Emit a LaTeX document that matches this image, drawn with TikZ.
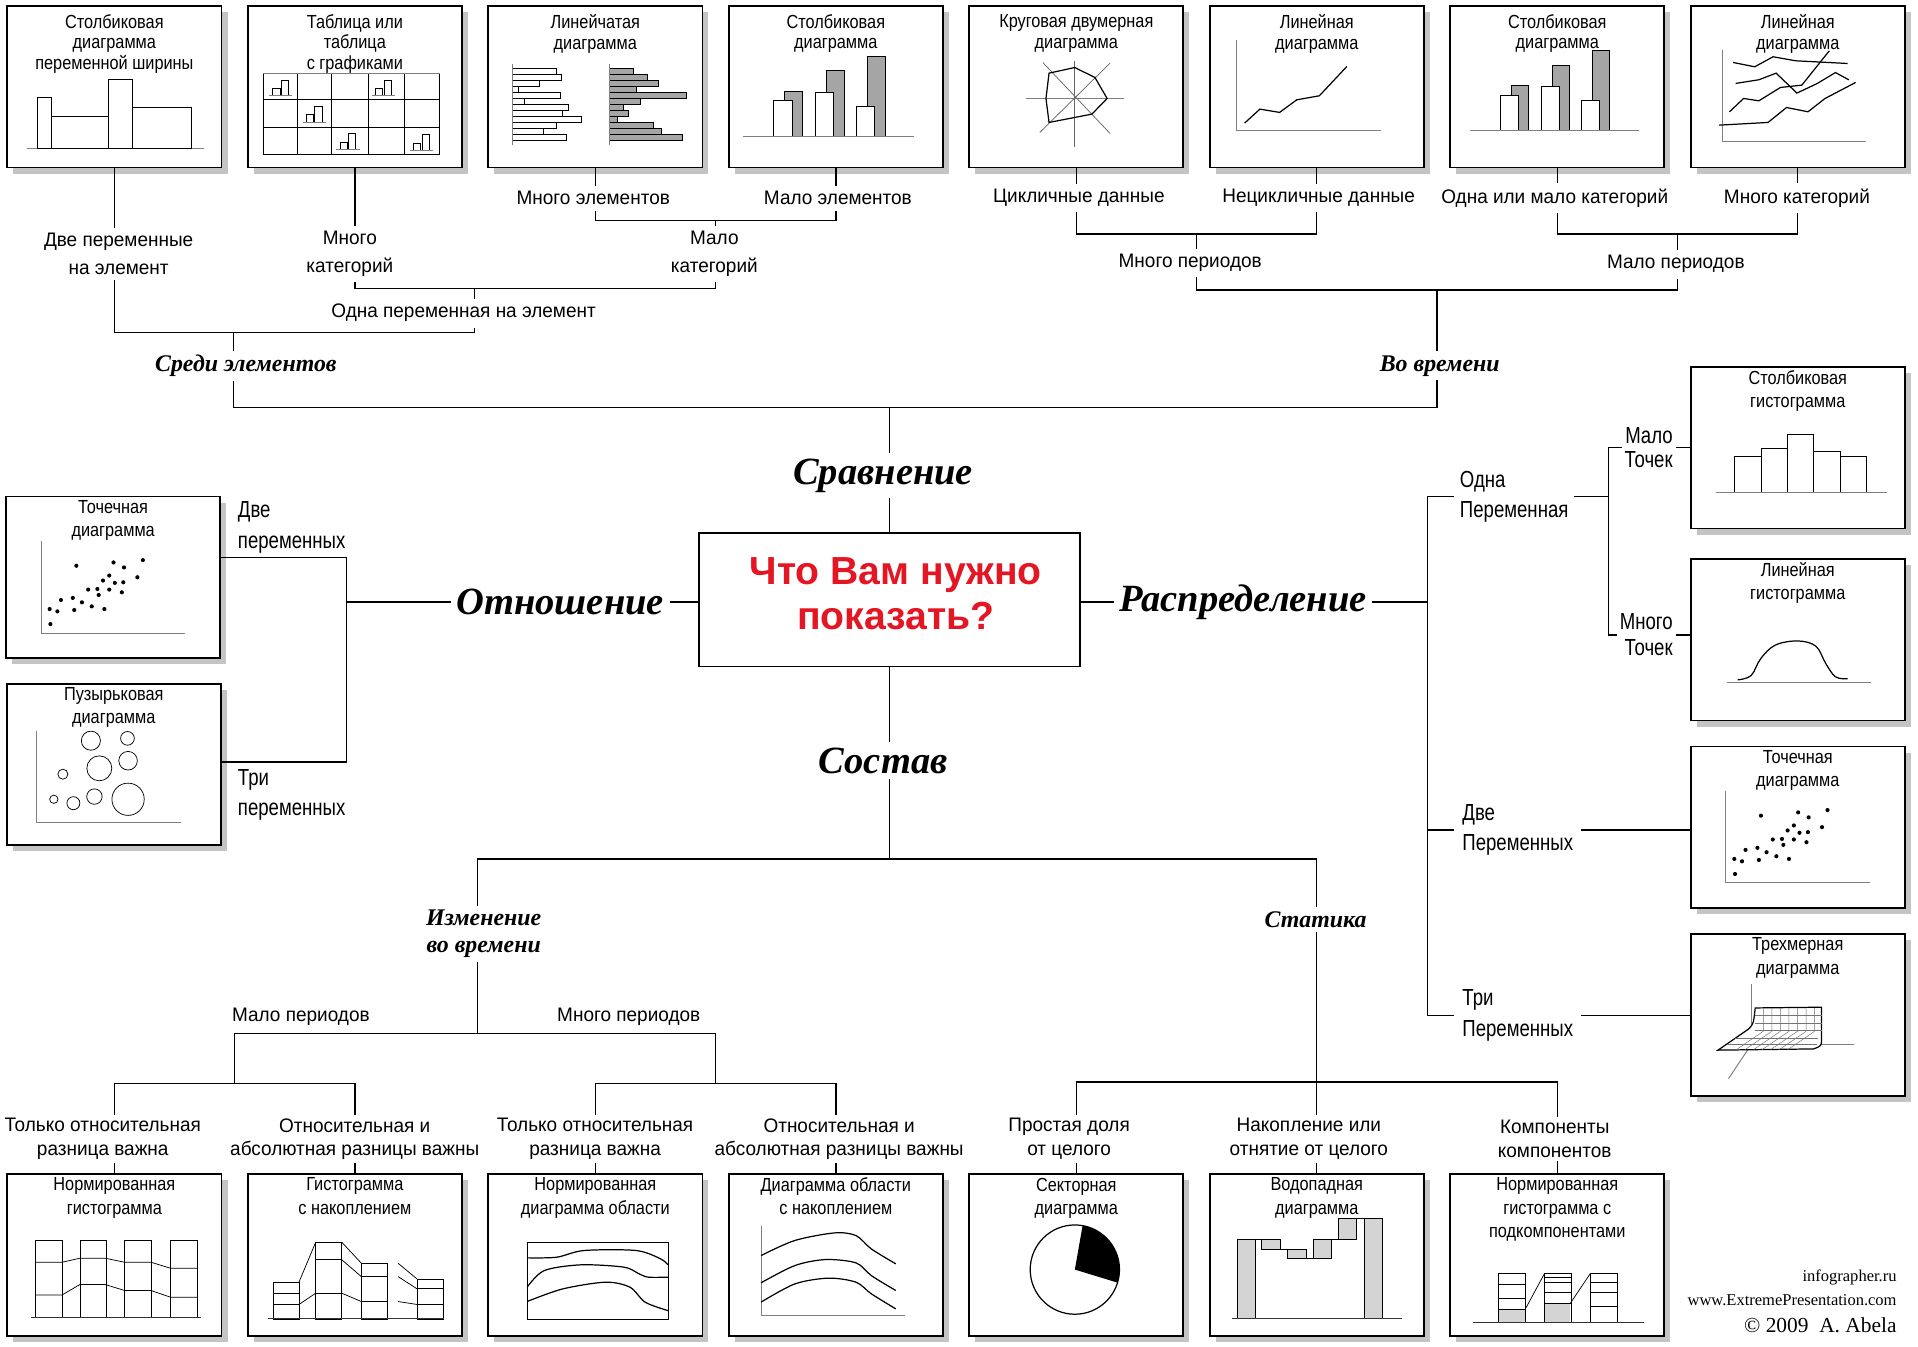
\documentclass[tikz,border=0pt]{standalone}
\usepackage{fontspec}
\setmainfont{Liberation Sans}
\newfontfamily\lblfont{Liberation Sans}[FakeStretch=0.97]
\newfontfamily\boxfont{Liberation Sans}[FakeStretch=0.86]
\newfontfamily\tallfont{Liberation Sans}[FakeStretch=0.8]
\newfontfamily\catfont{Liberation Serif}
\usetikzlibrary{shadows,positioning}

\definecolor{shadowgray}{RGB}{196,196,196}
\definecolor{bargray}{RGB}{165,165,165}
\definecolor{fillgray}{RGB}{212,212,212}
\definecolor{askred}{RGB}{228,22,36}

% scatter chart, used in two boxes
\newcommand{\dotcloud}{%
  \draw[axisline] (29.4,37) -- (29.4,112.2) -- (147,112.2);
  \foreach \px/\py in {58.1/57.2,88.5/54.5,97.1/58.6,112.5/52.6,85/65.2,108/66.6,79.9/69.3,89.6/71.2,96.5/70.7,67.8/76.7,75.3/76.2,85/76.7,76.4/81.1,95.3/78.9,45.5/85.2,55.2/83.5,62.7/87.1,70.7/90.4,81/92.6,36.3/92.6,42.6/94.5,56.4/93.4,36.9/104.9}
    \fill (\px,\py) circle[radius=1.7pt];
}

\begin{document}
\begin{tikzpicture}[x=1pt,y=-1pt,line width=1.1pt,
chartbox/.style={draw,line width=1.4pt,fill=white,minimum width=175pt,minimum height=132pt,inner sep=0pt,
  drop shadow={shadow xshift=5pt,shadow yshift=-5pt,fill=shadowgray,opacity=1}},
ttl/.style={anchor=north,align=center,inner sep=3pt,font=\boxfont\fontsize{15.5}{19}\selectfont},
topttl/.style={ttl,yshift=-4pt,font=\boxfont\fontsize{15.5}{16.8}\selectfont},
lbl/.style={align=center,inner sep=4pt,font=\lblfont\fontsize{16}{22.5}\selectfont},
lowlbl/.style={align=center,inner sep=2.5pt,font=\lblfont\fontsize{16}{19}\selectfont},
biglbl/.style={align=left,inner sep=4pt,font=\tallfont\fontsize{19}{25}\selectfont},
maincat/.style={inner sep=4pt,font=\catfont\bfseries\itshape\fontsize{31.5}{34}\selectfont},
subcat/.style={align=center,inner sep=3pt,font=\catfont\bfseries\itshape\fontsize{19.5}{22}\selectfont},
axisline/.style={line width=0.8pt,draw=black!50},
thinline/.style={line width=0.6pt},
chartline/.style={line width=1pt},
credit/.style={anchor=east,inner sep=0pt,font=\catfont\fontsize{13.5}{15}\selectfont}]

\fill[white,use as bounding box] (0,0) rectangle (1568,1101);

%%% comparison charts (top row)
\node[chartbox] (cmp1) at (93.5,71) {};
\node[topttl] (cmp1t) at (cmp1.north) {Столбиковая\\диаграмма\\переменной ширины};
\node[chartbox] (cmp2) at (290.1,71) {};
\node[topttl] (cmp2t) at (cmp2.north) {Таблица или\\таблица\\с графиками};
\node[chartbox] (cmp3) at (486.7,71) {};
\node[topttl] (cmp3t) at (cmp3.north) {Линейчатая\\диаграмма};
\node[chartbox] (cmp4) at (683.3,71) {};
\node[topttl] (cmp4t) at (cmp4.north) {Столбиковая\\диаграмма};
\node[chartbox] (cmp5) at (879.9,71) {};
\node[topttl] (cmp5t) at (cmp5.north) {Круговая двумерная\\диаграмма};
\node[chartbox] (cmp6) at (1076.5,71) {};
\node[topttl] (cmp6t) at (cmp6.north) {Линейная\\диаграмма};
\node[chartbox] (cmp7) at (1273.1,71) {};
\node[topttl] (cmp7t) at (cmp7.north) {Столбиковая\\диаграмма};
\node[chartbox] (cmp8) at (1469.7,71) {};
\node[topttl] (cmp8t) at (cmp8.north) {Линейная\\диаграмма};

\begin{scope}[shift={(cmp1.north west)}]
\draw[axisline] (16.5,117) -- (161.7,117);
\foreach \a/\b/\h in {25/37/75.4,37/83/90.9,83/103/60.4,103/151.5/83.6}
  \draw[thinline] (\a,117) rectangle (\b,\h);
\end{scope}
\begin{scope}[shift={(cmp2.north west)}]
\foreach \x in {13.4,40.9,68.9,98.9,128.9,157.4} \draw[thinline] (\x,55.5) -- (\x,122.2);
\foreach \y in {77.3,99.9,122.2} \draw[thinline] (13.4,\y) -- (157.4,\y);
\draw[axisline] (13.4,55.5) -- (157.4,55.5);
\foreach \x/\y in {20/74,104/74,47.5/95.5,75/118,135/118.5} {
  \draw[thinline] (\x+1,\y) rectangle (\x+7,\y-6);
  \draw[thinline] (\x+8,\y) rectangle (\x+14,\y-13);
  \draw[axisline] (\x-2,\y) -- (\x+17,\y);
}
\end{scope}
\begin{scope}[shift={(cmp3.north west)}]
\foreach \w [count=\i from 0] in {36,40,22,5,39,10,46,41,56,36,25,44}
  \draw[thinline,fill=white] (20.4,51.7+4.9*\i) rectangle ++(\w,4.9);
\foreach \w [count=\i from 0] in {19,30.5,39.5,21.5,63,25,11.5,15.5,6.5,35.5,42.5,59}
  \draw[thinline,fill=bargray] (100,51.7+4.9*\i) rectangle ++(\w,4.9);
\draw[axisline] (20.4,48) -- (20.4,114.3);
\draw[axisline] (100,48) -- (100,114.3);
\end{scope}
\begin{scope}[shift={(cmp4.north west)}]
\foreach \a/\h/\g in {37.4/78.1/70.5,71.4/71.3/53.6,105.1/82.7/41.9} {
  \draw[thinline,fill=bargray] (\a+9,107.2) rectangle (\a+23.5,\g);
  \draw[thinline,fill=white] (\a,107.2) rectangle (\a+15,\h);
}
\draw[axisline] (12.4,107.2) -- (152.4,107.2);
\end{scope}
\begin{scope}[shift={(cmp5.north west)}]
\draw[axisline,line width=1.4pt] (47.4,76.2) -- (127.4,76.2);
\draw[thinline,draw=black!60] (86.8,45.4) -- (86.8,116.2);
\draw[thinline,draw=black!60] (60.8,46.8) -- (115.8,104.8);
\draw[thinline,draw=black!60] (115.8,47.3) -- (58.3,104);
\draw[chartline] (86.9,50.9) -- (103.4,59) -- (113.4,76.2) -- (100.9,89) -- (65.9,95.8) -- (63.4,76.2) -- (65.9,55.5) -- cycle;
\end{scope}
\begin{scope}[shift={(cmp6.north west)}]
\draw[axisline] (22.7,28.2) -- (22.7,102.6) -- (140.3,102.6);
\draw[chartline] (29.2,96.3) -- (41.7,84.9) -- (57.8,87.6) -- (71.8,77.3) -- (90.3,74) -- (112.8,50);
\end{scope}
\begin{scope}[shift={(cmp7.north west)}]
\foreach \a/\h/\g in {41.8/74/65.8,75.4/66.4/49.5,107.9/78/37.2} {
  \draw[thinline,fill=bargray] (\a+8.6,102.6) rectangle (\a+22.6,\g);
  \draw[thinline,fill=white] (\a,102.6) rectangle (\a+14.6,\h);
}
\draw[axisline] (16.8,102.6) -- (155.4,102.6);
\end{scope}
\begin{scope}[shift={(cmp8.north west)}]
\draw[axisline] (26.4,36.4) -- (26.4,111.6) -- (144,111.6);
\draw[chartline] (35.4,46.8) -- (53,50.3) -- (68,42.1) -- (86.5,45.4) -- (129,47.6);
\draw[chartline] (37.4,63.9) -- (56.4,60.9) -- (70.5,55.5) -- (87.5,71.8) -- (104,64) -- (119,55) -- (130,61);
\draw[chartline] (32.4,87.1) -- (43.9,76.2) -- (56.4,78.1) -- (74,67.2) -- (91.5,65.3) -- (114,37.2);
\draw[chartline] (23.9,98) -- (63.9,95.8) -- (79,83.6) -- (96.5,87.1) -- (110.5,76.2) -- (135.5,63.1);
\end{scope}

%%% comparison tree
\node[lbl] (l1) at (97,207.4) {Две переменные\\на элемент};
\node[lbl] (l2) at (286,207.4) {Много\\категорий};
\node[lbl] (l3) at (584,207.4) {Мало\\категорий};
\node[lbl] (l4) at (379,256) {Одна переменная на элемент};
\node[lbl] (l5) at (485,162) {Много элементов};
\node[lbl] (l6) at (685,162) {Мало элементов};
\node[subcat] (l7) at (201,299) {Среди элементов};
\node[lbl] (l8) at (882,162) {Цикличные данные};
\node[lbl] (l9) at (1078,162) {Нецикличные данные};
\node[lbl] (l10) at (1271,162) {Одна или мало категорий};
\node[lbl] (l11) at (1469,162) {Много категорий};
\node[lbl] (l12) at (973,215) {Много периодов};
\node[lbl] (l13) at (1370,216) {Мало периодов};
\node[subcat] (l14) at (1177,299) {Во времени};

\coordinate (jA) at (585,180.4);
\coordinate (jB) at (388,235.7);
\coordinate (jC) at (191,272);
\coordinate (jD) at (727.3,333);
\coordinate (jE) at (978.2,191.3);
\coordinate (jF) at (1371.4,191.3);
\coordinate (jG) at (1174.8,237);

\draw (cmp1.south) -- (cmp1.south |- l1.north);
\draw (cmp2.south) -- (cmp2.south |- l2.north);
\draw (cmp3.south) -- (cmp3.south |- l5.north);
\draw (cmp4.south) -- (cmp4.south |- l6.north);
\draw (l5.south -| cmp3.south) |- (jA) -| (l6.south -| cmp4.south);
\draw (jA) -- (jA |- l3.north);
\draw (l2.south -| cmp2.south) |- (jB) -| (l3.south -| jA);
\draw (jB) -- (jB |- l4.north);
\draw (l1.south -| cmp1.south) |- (jC) -| (l4.south -| jB);
\draw (jC) -- (jC |- l7.north);
\draw (cmp5.south) -- (cmp5.south |- l8.north);
\draw (cmp6.south) -- (cmp6.south |- l9.north);
\draw (cmp7.south) -- (cmp7.south |- l10.north);
\draw (cmp8.south) -- (cmp8.south |- l11.north);
\draw (l8.south -| cmp5.south) |- (jE) -| (l9.south -| cmp6.south);
\draw (jE) -- (jE |- l12.north);
\draw (l10.south -| cmp7.south) |- (jF) -| (l11.south -| cmp8.south);
\draw (jF) -- (jF |- l13.north);
\draw (l12.south -| jE) |- (jG) -| (l13.south -| jF);
\draw (jG) -- (jG |- l14.north);
\draw (l7.south -| jC) |- (jD) -| (l14.south -| jG);

%%% centre
\node[draw,line width=1.3pt,minimum width=311.4pt,minimum height=109.3pt,align=center,text depth=10pt,
  text=askred,font=\bfseries\fontsize{32}{36.5}\selectfont] (q) at (727.3,490.3) {\hspace*{10pt}Что Вам нужно\\\hspace*{10pt}показать?};
\node[maincat] (c1) at (722,388.7) {Сравнение};
\node[maincat] (c2) at (458,492) {Отношение};
\node[maincat] (c3) at (1016.3,492) {Распределение};
\node[maincat] (c4) at (722,622) {Состав};
\draw (jD) -- (jD |- c1.north);
\draw (c1.south -| q.north) -- (q.north);

%%% relationship
\node[chartbox] (rel1) at (92.5,472) {};
\node[ttl] (rel1t) at (rel1.north) {Точечная\\диаграмма};
\node[chartbox] (rel2) at (93,625) {};
\node[ttl] (rel2t) at (rel2.north) {Пузырьковая\\диаграмма};
\begin{scope}[shift={(rel1.north west)}]
\dotcloud
\end{scope}
\begin{scope}[shift={(rel2.north west)}]
\draw[axisline] (25.4,39) -- (25.4,113.8) -- (143,113.8);
\foreach \x/\y/\r in {69.5/47.2/7.8,99.4/45.3/5.6,76.4/69.8/10.2,99.9/63.6/7.6,46.6/74.6/4.1,72.4/92.9/6.3,55.2/98.3/5.3,39.2/95.1/3.4,99.9/95.1/13.2}
  \draw[thinline] (\x,\y) circle[radius=\r pt];
\end{scope}
\node[biglbl,anchor=west] (k1) at (190,431) {Две\\переменных};
\node[biglbl,anchor=west] (k2) at (190,650) {Три\\переменных};
\coordinate (jH) at (283.2,455.8);
\coordinate (jI) at (283.2,622.8);
\draw (rel1.east |- jH) -- (jH) -- (jI) -- (rel2.east |- jI);
\draw (jH |- c2.west) -- (c2.west);
\draw (c2.east) -- (c2.east -| q.west);

%%% distribution
\node[chartbox] (dis1) at (1469.7,366) {};
\node[ttl] (dis1t) at (dis1.north) {Столбиковая\\гистограмма};
\node[chartbox] (dis2) at (1469.7,523) {};
\node[ttl] (dis2t) at (dis2.north) {Линейная\\гистограмма};
\node[chartbox] (dis3) at (1469.7,676.3) {};
\node[ttl] (dis3t) at (dis3.north) {Точечная\\диаграмма};
\node[chartbox] (dis4) at (1469.7,829.8) {};
\node[ttl] (dis4t) at (dis4.north) {Трехмерная\\диаграмма};
\begin{scope}[shift={(dis1.north west)}]
\foreach \a/\b/\h in {36.4/58.6/74,58.6/79.9/67.5,79.9/101.2/56,101.2/123.4/69.4,123.4/144.6/74}
  \draw[thinline] (\a,103) rectangle (\b,\h);
\draw[axisline] (21.3,103) -- (160.9,103);
\end{scope}
\begin{scope}[shift={(dis2.north west)}]
\draw[axisline] (30.6,102) -- (147.8,102);
\draw[chartline] plot[smooth,tension=0.6] coordinates {(39.1,99.5) (50,96) (58,82) (70,71) (88.4,67.7) (103,72) (111,86) (119,97) (128.9,98.6)};
\end{scope}
\begin{scope}[shift={(dis3.north west)}]
\dotcloud
\end{scope}
\begin{scope}[shift={(dis4.north west)}]
\draw[axisline] (50,41.5) -- (50,91) -- (134,91);
\draw[axisline] (50,91) -- (31.6,118.7);
\filldraw[chartline,fill=white] (53.4,60.9) -- (107.6,60.3) -- (107.6,86) .. controls (107.6,92) .. (101,94.4) -- (23,95.4) -- (47.9,78.2) .. controls (52,74) .. (53.4,60.9) -- cycle;
\foreach \x in {60,67,74,81,88,95,102}
  \draw[line width=0.4pt,draw=black!55] (\x,61) -- (\x,80) -- (\x-22,95);
\foreach \y in {67,73,79}
  \draw[line width=0.4pt,draw=black!55] (53,\y) -- (107.6,\y);
\draw[line width=0.4pt,draw=black!55] (37,86) -- (105,86) (30,90.6) -- (104,90.6);
\end{scope}

\node[biglbl,anchor=west] (r1) at (1189,406) {Одна\\Переменная};
\node[biglbl,anchor=east,align=right,inner sep=2pt,font=\tallfont\fontsize{19}{19}\selectfont] (r2) at (1370,366) {Мало\\Точек};
\node[biglbl,anchor=east,align=right,inner sep=2pt,font=\tallfont\fontsize{19}{21}\selectfont] (r3) at (1370,519) {Много\\Точек};
\node[biglbl,anchor=west,inner xsep=6pt] (r4) at (1189,678.6) {Две\\Переменных};
\node[biglbl,anchor=west,inner xsep=6pt] (r5) at (1189,830) {Три\\Переменных};
\coordinate (jJ) at (1166.8,406);
\coordinate (jK) at (1314.8,406);
\draw (q.east |- c3.west) -- (c3.west);
\draw (c3.east) -- (c3.east -| jJ);
\draw (r1.west) -- (jJ) |- (r5.west);
\draw (jJ |- r4.west) -- (r4.west);
\draw (r1.east) -- (jK);
\draw (r2.west) -| (jK) |- (r3.west);
\draw (r2.east) -- (r2.east -| dis1.west);
\draw (r3.east) -- (r3.east -| dis2.west);
\draw (r4.east) -- (r4.east -| dis3.west);
\draw (r5.east) -- (r5.east -| dis4.west);

%%% composition
\node[chartbox] (com1) at (93.5,1026) {};
\node[ttl] (com1t) at (com1.north) {Нормированная\\гистограмма};
\node[chartbox] (com2) at (290.1,1026) {};
\node[ttl] (com2t) at (com2.north) {Гистограмма\\с накоплением};
\node[chartbox] (com3) at (486.7,1026) {};
\node[ttl] (com3t) at (com3.north) {Нормированная\\диаграмма области};
\node[chartbox] (com4) at (683.3,1026) {};
\node[ttl] (com4t) at (com4.north) {Диаграмма области\\с накоплением};
\node[chartbox] (com5) at (879.9,1026) {};
\node[ttl] (com5t) at (com5.north) {Секторная\\диаграмма};
\node[chartbox] (com6) at (1076.5,1026) {};
\node[ttl] (com6t) at (com6.north) {Водопадная\\диаграмма};
\node[chartbox] (com7) at (1273.1,1026) {};
\node[ttl] (com7t) at (com7.north) {Нормированная\\гистограмма с\\подкомпонентами};

\begin{scope}[shift={(com1.north west)}]
\foreach \a in {24,60,96.6,134.2} \draw[thinline] (\a,54.9) rectangle (\a+21.5,117.5);
\draw[thinline] (24,72.6) -- (45.5,72.6) -- (60,69.3) -- (80.7,69.3) -- (96.6,72.6) -- (118.1,72.6) -- (134.2,77.5) -- (155.7,77.5);
\draw[thinline] (24,99.3) -- (45.5,99.3) -- (60,90.8) -- (80.7,90.8) -- (96.6,95.7) -- (118.1,95.7) -- (134.2,101.2) -- (155.7,101.2);
\draw[axisline,draw=black!80] (20,117.5) -- (159,117.5);
\end{scope}
\begin{scope}[shift={(com2.north west)}]
\foreach \a/\h in {21.2/88.9,56.2/56.2,93.5/73.4,139/86.2} \draw[thinline] (\a,\h) rectangle (\a+21.3,118.9);
\foreach \a/\y in {21.2/97.9,21.2/107.1,56.2/70.6,56.2/97.9,93.5/84.3,93.5/104.7,139/94.3,139/107.1}
  \draw[thinline] (\a,\y) -- ++(21.3,0);
\draw[thinline] (42.5,88.9) -- (56.2,56.2) (42.5,107.1) -- (56.2,97.9) (77.5,56.2) -- (93.5,73.4) (77.5,70.6) -- (93.5,84.3) (77.5,97.9) -- (93.5,104.7) (123.5,73.4) -- (139,86.2) (123.5,84.3) -- (139,94.3) (123.5,104.7) -- (139,107.1);
\draw[axisline,draw=black!80] (17.2,118.9) -- (161.2,118.9);
\end{scope}
\begin{scope}[shift={(com3.north west)}]
\draw[thinline] (32.4,56.2) rectangle (147.6,118.9);
\draw[chartline] plot[smooth] coordinates {(32.4,69) (56.5,68.5) (79,63) (121.5,63) (141.5,69.8) (147.5,74.7)};
\draw[chartline] plot[smooth] coordinates {(32.4,93) (46.4,79.4) (76.5,74.7) (111.5,76.6) (124,82.1) (131.5,84.8) (147.5,84.8)};
\draw[chartline] plot[smooth] coordinates {(32.4,104.7) (61.5,94.4) (96.5,88.9) (116.5,93) (129,105.3) (147.5,112.1)};
\end{scope}
\begin{scope}[shift={(com4.north west)}]
\draw[axisline] (27.1,42.6) -- (27.1,116.1) -- (144.7,116.1);
\draw[chartline] plot[smooth] coordinates {(27.1,67.1) (54.7,54.8) (87.2,48.6) (104.7,50.8) (117.2,61.7) (137.2,73.9)};
\draw[chartline] plot[smooth] coordinates {(27.1,89.4) (54.7,75.3) (79.7,70.4) (104.7,73.1) (117.2,83.5) (137.2,95.7)};
\draw[chartline] plot[smooth] coordinates {(27.1,105.2) (54.7,90.3) (82.2,85.6) (104.7,88.9) (117.2,98.4) (137.2,110.7)};
\end{scope}
\begin{scope}[shift={(com5.north west)}]
\draw[chartline] (87,78.6) circle[radius=36.5pt];
\fill (87,78.6) -- ++(80:36.5pt) arc[start angle=80,end angle=-17,radius=36.5pt] -- cycle;
\end{scope}
\begin{scope}[shift={(com6.north west)}]
\foreach \a/\t/\b in {23.2/54/118.3,43.2/54/61.7,64.3/61.7/69.3,85.3/54/69.3,105.8/36.6/54,126.8/36.6/118.3}
  \draw[thinline,fill=fillgray] (\a,\t) rectangle (\a+15,\b);
\draw[thinline] (38.2,54) -- (43.2,54) (58.2,61.7) -- (64.3,61.7) (79.3,69.3) -- (85.3,69.3) (100.3,54) -- (105.8,54) (120.8,36.6) -- (126.8,36.6);
\draw[axisline,draw=black!80] (19.2,118.3) -- (157.9,118.3);
\end{scope}
\begin{scope}[shift={(com7.north west)}]
\fill[fillgray] (40.3,111.2) rectangle (61.9,122.1);
\fill[fillgray] (77.9,106.1) rectangle (98.9,122.1);
\foreach \a in {40.3,77.9,115.4} \draw[thinline] (\a,81.5) rectangle (\a+21.5,122.1);
\foreach \a/\y in {40.3/90.3,40.3/101.9,40.3/111.2,77.9/84.8,77.9/88.9,77.9/97.1,77.9/106.1,115.4/88.9,115.4/97.1,115.4/108.8}
  \draw[thinline] (\a,\y) -- ++(21.5,0);
\draw[thinline] (61.9,111.2) -- (77.9,81.5) (98.9,106.1) -- (115.4,81.5);
\draw[axisline,draw=black!80] (19.3,122.1) -- (159,122.1);
\end{scope}

\node[subcat] (c5) at (395.4,763.5) {Изменение\\во времени};
\node[subcat] (c8) at (1075.5,752) {Статика};
\node[lowlbl] (c6) at (246,831) {Мало периодов};
\node[lowlbl] (c7) at (514,831) {Много периодов};
\node[lowlbl] (t1) at (84,931) {Только относительная\\разница важна};
\node[lowlbl] (t2) at (290,931) {Относительная и\\абсолютная разницы важны};
\node[lowlbl] (t3) at (486.5,931) {Только относительная\\разница важна};
\node[lowlbl] (t4) at (686,931) {Относительная и\\абсолютная разницы важны};
\node[lowlbl] (t5) at (874,931) {Простая доля\\от целого};
\node[lowlbl] (t6) at (1070,931) {Накопление или\\отнятие от целого};
\node[lowlbl] (t7) at (1271,931) {Компоненты\\компонентов};

\coordinate (jL) at (390.4,702.3);
\coordinate (jM) at (1076.3,702.3);
\coordinate (jN) at (390.4,845);
\coordinate (jO) at (191.9,886);
\coordinate (jP) at (585,886);
\coordinate (jQ) at (1076.3,884.6);
\draw (q.south) -- (q.south |- c4.north);
\draw (c4.south -| q.south) -- (q.south |- jL);
\draw (c5.north -| jL) -- (jL) -- (jM) -- (jM |- c8.north);
\draw (c5.south -| jL) -- (jN);
\draw (jO) |- (jN) -| (jP);
\draw (t1.north -| com1.north) |- (jO) -| (t2.north -| com2.north);
\draw (t3.north -| com3.north) |- (jP) -| (t4.north -| com4.north);
\draw (c8.south -| jM) -- (jQ) -- (jQ |- t6.north);
\draw (t5.north -| com5.north) |- (jQ) -| (t7.north -| com7.north);
\draw (t1.south -| com1.north) -- (com1.north);
\draw (t2.south -| com2.north) -- (com2.north);
\draw (t3.south -| com3.north) -- (com3.north);
\draw (t4.south -| com4.north) -- (com4.north);
\draw (t5.south -| com5.north) -- (com5.north);
\draw (t6.south -| com6.north) -- (com6.north);
\draw (t7.south -| com7.north) -- (com7.north);

%%% credits
\node[credit] (f1) at (1551,1044.6) {infographer.ru};
\node[credit] (f2) at (1551,1062.9) {www.ExtremePresentation.com};
\node[credit,font=\catfont\fontsize{17.5}{19}\selectfont] (f3) at (1551,1083) {©~2009~~A.~Abela};

\end{tikzpicture}
\end{document}
